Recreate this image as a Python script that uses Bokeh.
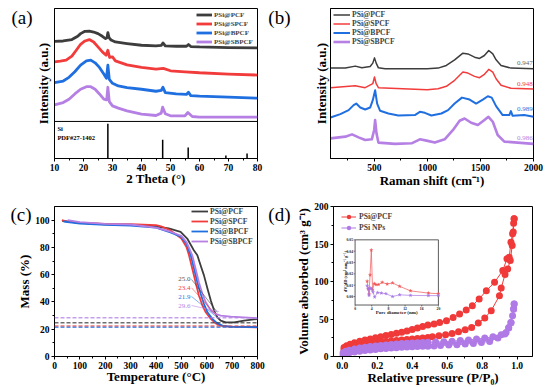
import numpy as np
from bokeh.plotting import figure
from bokeh.models import (Range1d, FixedTicker, Legend, LegendItem, Span, PrintfTickFormatter,
                          LinearAxis, CustomJSTickFormatter)
from bokeh.layouts import column, row
from bokeh.embed import file_html
from bokeh.resources import INLINE
from bokeh.core.properties import value

# ---------------- data ----------------
# (a) XRD
xrd_tt_pcf = [10, 13, 16, 18, 19, 20.5, 22, 23.5, 25, 26.5, 27.6, 28.1, 28.4, 28.8, 29.5, 31, 35, 40, 45, 46.8, 47.4, 48.2, 52, 55.5, 56.2, 57, 60, 70, 80]
xrd_pcf = [118, 118.3, 119.7, 123, 125.7, 128, 128.3, 127.3, 125.7, 123, 120.7, 121.5, 126.7, 121.7, 119.3, 117.3, 115.7, 114, 113.3, 113.8, 116.3, 113.3, 113, 113, 114.7, 112.7, 112.3, 111.7, 111.3]
xrd_tt_spcf = [10, 12, 14, 16, 17.5, 19, 20.5, 22, 23.5, 25, 26.5, 27.8, 28.4, 29, 30, 31, 33, 35, 40, 45, 47.5, 50, 55, 60, 70, 80]
xrd_spcf = [97.3, 98, 99, 103, 109, 115, 118.3, 119.7, 117.3, 112.3, 107.3, 104, 109, 101.7, 102.3, 98.3, 96.3, 94.3, 91.7, 90, 90.7, 88.3, 87.3, 86.3, 85, 84]
xrd_tt_bpcf = [10, 13, 15, 17, 19, 21, 22.5, 24, 25.5, 27, 27.9, 28.4, 28.9, 30, 32, 35, 40, 45, 46.8, 47.4, 48.2, 52, 55.5, 56.2, 57, 60, 70, 80]
xrd_bpcf = [76.3, 78, 81.7, 87.3, 94, 98.3, 99, 96.3, 91.7, 85, 80.7, 94, 79.7, 75.7, 73, 71.3, 69.7, 67.7, 68.5, 71.7, 66.3, 65, 64.5, 66.7, 63.3, 62.7, 61.7, 60.7]
xrd_tt_sbpcf = [10, 13, 15, 17, 19, 21, 22.5, 24, 25.5, 27, 28, 28.4, 28.9, 30, 32, 35, 40, 45, 46.8, 47.3, 48.2, 50, 55, 56, 57.5, 60, 70, 80]
xrd_sbpcf = [54, 56.3, 59.7, 65, 69.7, 72.3, 72.3, 69.7, 65, 59.7, 59, 71.7, 57.3, 53, 50.7, 48, 44.7, 43.3, 45.7, 51.7, 45, 43, 43, 46.3, 42.3, 41.7, 41.7, 41.7]
pdf_tt = [28.4, 47.3, 56.1, 69.1, 76.4]
pdf_int = [35, 19, 11, 3, 5]
pdf_divider = 37.3

# (b) Raman
ram_x_pcf = [85, 225, 319, 381, 459, 484, 500, 516, 537, 600, 850, 997, 1100, 1178, 1256, 1334, 1381, 1444, 1491, 1537, 1578, 1616, 1647, 1694, 1787, 2000]
ram_pcf = [91, 91, 93, 91.3, 92.7, 96, 101.3, 96, 91.3, 90.3, 90.3, 90.3, 91, 93.7, 99.3, 106, 105.3, 102, 100.7, 103.7, 108.7, 105.3, 99.3, 93.7, 91, 90.3]
ram_x_spcf = [85, 319, 412, 484, 500, 516, 537, 997, 1100, 1178, 1256, 1334, 1381, 1444, 1491, 1537, 1578, 1616, 1647, 1694, 1787, 2000]
ram_spcf = [71.3, 73.3, 71.3, 75.3, 82, 75.3, 71.3, 69.3, 70.3, 72.7, 78.7, 87, 86, 82.7, 81.3, 84.7, 89.7, 87, 80.3, 73.7, 70.7, 70]
ram_x_bpcf = [85, 178, 256, 303, 328, 366, 412, 459, 484, 506, 525, 553, 631, 725, 881, 928, 975, 1037, 1131, 1194, 1256, 1325, 1397, 1459, 1522, 1569, 1606, 1647, 1709, 1772, 1787, 1803, 1912, 2000]
ram_bpcf = [41.3, 44.7, 48.7, 53.7, 55.3, 51.3, 49.3, 51.3, 58.7, 68.7, 55.3, 48, 45.3, 43.3, 43.7, 47, 46, 43.3, 45.3, 48.7, 55.3, 61.3, 59.3, 55.3, 59.3, 62.7, 61.3, 52.7, 43.7, 43.7, 47.7, 43, 43.7, 42]
ram_x_sbpcf = [85, 225, 288, 350, 412, 475, 497, 506, 519, 537, 694, 850, 928, 991, 1069, 1162, 1241, 1303, 1350, 1412, 1475, 1537, 1575, 1616, 1662, 1725, 1850, 2000]
ram_sbpcf = [20.3, 22, 24.3, 21.3, 18.7, 19.3, 28.7, 38.7, 25.3, 16, 14.7, 15.3, 19.3, 18, 16, 19.3, 28.7, 38, 40.3, 36, 33.7, 38.7, 42, 37, 23.7, 17, 16, 14.7]
ram_ratio_text = ["0.947", "0.948", "0.989", "0.986"]
ram_ratio_y = [96.3, 75.3, 50.3, 21]

# (c) TGA
tga_T_pcf = [30, 100, 200, 300, 400, 450, 497, 523, 549, 563, 576, 589, 603, 616, 629, 642, 655, 675, 708, 747, 800]
tga_pcf = [99.5, 98, 97, 96.5, 95.5, 93.9, 91.4, 86.5, 77.9, 74.2, 66.8, 59.5, 49.7, 41, 33.7, 28.7, 26.3, 25, 25, 26.3, 27.5]
tga_T_spcf = [29, 50, 100, 200, 300, 400, 420, 457, 500, 520, 530, 543, 556, 569, 583, 596, 616, 635, 655, 682, 800]
tga_spcf = [100, 99, 98, 97.2, 97, 96.3, 95.5, 92.5, 86.5, 80.3, 74.2, 64.4, 54.5, 44.7, 37.4, 32.4, 27.6, 24.3, 22.6, 21.9, 21.4]
tga_T_bpcf = [36, 100, 200, 300, 400, 457, 500, 520, 537, 550, 563, 576, 589, 603, 622, 642, 662, 695, 800]
tga_bpcf = [99, 97.5, 96.5, 96, 94.5, 91, 87.7, 82.8, 74.2, 64.4, 54.5, 46, 38.6, 32.4, 27.6, 24.3, 22.6, 21.9, 21.6]
tga_T_sbpcf = [52, 100, 200, 300, 400, 457, 500, 520, 543, 556, 569, 583, 596, 616, 635, 655, 695, 747, 800]
tga_sbpcf = [100, 98.5, 97.3, 96.8, 94.5, 91.5, 88.5, 84, 74.2, 64.4, 54.5, 46, 39.8, 33.7, 31.2, 30, 29.2, 28.7, 28]
tga_residual_text = ["25.0", "23.4", "21.9", "29.6"]
tga_residual_dash = [24.8, 22.3, 21.5, 28.5]
tga_label_T = 536
tga_label_m = [56.5, 50.4, 44.0, 37.4]
tga_leader_end_T = [642, 639, 642, 648]
tga_leader_end_m = [32.4, 30.0, 28.5, 33.0]

# (d) N2 isotherms
bet_x_pcf_up = [0.01, 0.025, 0.045, 0.07, 0.1, 0.13, 0.16, 0.19, 0.22, 0.25, 0.28, 0.31, 0.34, 0.37, 0.40, 0.43, 0.46, 0.49, 0.525, 0.557, 0.596, 0.634, 0.671, 0.709, 0.744, 0.783, 0.824, 0.871, 0.918, 0.942, 0.955, 0.965, 0.974, 0.98, 0.983]
bet_pcf_up = [12, 14.5, 16.5, 18.5, 20.5, 22, 23.5, 25, 26.5, 28, 29.5, 31, 32.5, 34, 36, 38, 40, 42, 43.3, 45.5, 47.7, 52.1, 56.7, 62, 67.8, 76.7, 87.8, 98.9, 114.6, 130.2, 132.4, 152.4, 163.6, 177.8, 183.7]
bet_x_pcf_lo = [0.01, 0.025, 0.045, 0.07, 0.1, 0.13, 0.16, 0.19, 0.22, 0.25, 0.28, 0.31, 0.34, 0.37, 0.40, 0.43, 0.46, 0.49, 0.516, 0.553, 0.591, 0.628, 0.665, 0.703, 0.74, 0.778, 0.815, 0.852, 0.899, 0.909, 0.931, 0.946, 0.961, 0.972, 0.978, 0.983]
bet_pcf_lo = [9, 11, 12.5, 14, 15.5, 16.5, 17.5, 18.5, 19.2, 20, 20.7, 21.4, 22, 22.7, 23.4, 24, 24.7, 25.4, 26.3, 27.7, 29, 30.8, 33, 35.7, 38.8, 44.6, 51.3, 61.1, 81.1, 91.4, 109.2, 116.8, 128, 148, 166, 183.7]
bet_x_np_up = [0.005, 0.02, 0.04, 0.07, 0.1, 0.13, 0.16, 0.19, 0.22, 0.25, 0.28, 0.31, 0.34, 0.37, 0.40, 0.43, 0.46, 0.49, 0.534, 0.581, 0.628, 0.675, 0.722, 0.768, 0.815, 0.862, 0.909, 0.937, 0.952, 0.965, 0.974, 0.98, 0.983]
bet_np_up = [5, 7, 8.5, 10, 11.2, 12.3, 13.3, 14.1, 14.8, 15.5, 16.1, 16.7, 17.2, 17.7, 18.1, 18.5, 18.8, 19, 19.2, 19.8, 20.4, 21.2, 22, 23.3, 24.6, 26.3, 29, 32.1, 38.8, 45.5, 54.4, 63.6, 70]
bet_x_np_lo = [0.005, 0.02, 0.04, 0.07, 0.1, 0.13, 0.16, 0.19, 0.22, 0.25, 0.28, 0.31, 0.34, 0.37, 0.40, 0.43, 0.46, 0.49, 0.525, 0.562, 0.609, 0.656, 0.703, 0.75, 0.796, 0.843, 0.89, 0.93, 0.952, 0.965, 0.98, 0.983]
bet_np_lo = [2.5, 4, 5, 6, 7, 8, 8.8, 9.5, 10.2, 10.8, 11.3, 11.8, 12.2, 12.6, 13, 13.3, 13.6, 13.8, 13.9, 14.7, 15.2, 15.6, 16.6, 17.5, 18.8, 20.1, 24.6, 30, 38, 45, 63, 70]
# inset pore size distribution
psd_x_pcf = [2.9, 3.15, 3.35, 3.6, 3.9, 4.2, 4.6, 5.0, 5.6, 6.5, 7.7, 9.0, 10.7, 13.3, 17.6, 20]
psd_pcf = [0.0135, 0.0065, 0.002, 0.019, 0.041, 0.006, 0.0115, 0.0105, 0.0105, 0.0125, 0.011, 0.012, 0.009, 0.005, 0.003, 0.0025]
psd_x_np = [2.9, 3.15, 3.35, 3.6, 3.9, 4.3, 4.7, 5.4, 6.3, 7.4, 9.0, 10.7, 13.3, 17.6, 20]
psd_np = [0.0095, 0.007, 0.001, 0.0075, 0.007, 0.004, -0.0005, 0.0035, 0.003, 0.0025, 0.0, 0.0015, 0.001, 0.0008, 0.0008]
inset_xlim = (0, 20)
inset_ylim = (-0.0075, 0.05)
inset_xticks = [0, 4, 8, 12, 16, 20]
inset_yticks = [0.0, 0.01, 0.02, 0.03, 0.04, 0.05]

# ---------------- style ----------------
FONT = "Liberation Serif"
BLACK = "#3d3d3d"
RED = "#f23c3c"
BLUE = "#1f6fe0"
PURPLE = "#b57fe4"
names = ["PSi@PCF", "PSi@SPCF", "PSi@BPCF", "PSi@SBPCF"]
cols = [BLACK, RED, BLUE, PURPLE]


def make_fig(width, height, xr, yr, left, right, top, bottom):
    p = figure(width=width, height=height, x_range=Range1d(*xr), y_range=Range1d(*yr),
               output_backend="svg", toolbar_location=None, title=None,
               min_border_left=left, min_border_right=right,
               min_border_top=top, min_border_bottom=bottom)
    p.grid.visible = False
    p.outline_line_color = "black"
    p.outline_line_width = 1
    p.outline_line_alpha = 1
    p.background_fill_color = "white"
    p.border_fill_color = "white"
    for ax in p.axis:
        ax.axis_line_color = "black"
        ax.axis_line_width = 1
        ax.major_tick_line_color = "black"
        ax.minor_tick_line_color = "black"
        ax.major_tick_out = 3
        ax.major_tick_in = 0
        ax.minor_tick_out = 2
        ax.minor_tick_in = 0
        ax.major_label_text_font = FONT
        ax.major_label_text_font_style = "bold"
        ax.major_label_text_font_size = "9.5px"
        ax.major_label_text_color = "black"
        ax.major_label_standoff = 2
        ax.axis_label_text_font = FONT
        ax.axis_label_text_font_style = "bold"
        ax.axis_label_text_font_size = "13px"
        ax.axis_label_text_color = "black"
    return p


def set_title(ax, text, standoff):
    ax.axis_label = text
    ax.axis_label_standoff = standoff


def add_tag(p, tag, y, standoff):
    ax = LinearAxis(ticker=FixedTicker(ticks=[y], minor_ticks=[]),
                    formatter=CustomJSTickFormatter(code="return '%s';" % tag),
                    axis_line_color=None, major_tick_line_color=None, minor_tick_line_color=None,
                    major_tick_out=0, major_tick_in=0, minor_tick_out=0, minor_tick_in=0,
                    major_label_standoff=standoff, major_label_text_font=FONT,
                    major_label_text_font_size="19px", major_label_text_font_style="normal",
                    major_label_text_color="black")
    p.add_layout(ax, "left")


def no_ticks(ax):
    ax.ticker = FixedTicker(ticks=[], minor_ticks=[])
    ax.major_tick_out = 0
    ax.minor_tick_out = 0


def add_legend(p, items, loc, font_size, gw, gh, standoff):
    lg = Legend(items=items, location=loc, orientation="vertical", padding=0, margin=0,
                spacing=0, glyph_width=gw, glyph_height=gh, label_height=gh,
                label_standoff=standoff, label_text_font=FONT,
                label_text_font_style="bold", label_text_font_size=font_size,
                background_fill_alpha=0, border_line_alpha=0)
    p.add_layout(lg)


# ---------------- (a) XRD ----------------
pa = make_fig(265, 190, (10, 80), (0, 151), 54, 8, 8, 31)
no_ticks(pa.yaxis[0])
set_title(pa.yaxis[0], "Intensity (a.u.)", 4)
pa.xaxis.ticker = FixedTicker(ticks=list(range(10, 81, 10)), minor_ticks=list(range(15, 80, 10)))
set_title(pa.xaxis[0], "2 Theta (°)", -3)
xs_a = [xrd_tt_pcf, xrd_tt_spcf, xrd_tt_bpcf, xrd_tt_sbpcf]
ys_a = [xrd_pcf, xrd_spcf, xrd_bpcf, xrd_sbpcf]
items = []
for xx, yy, c, n in zip(xs_a, ys_a, cols, names):
    r = pa.line(xx, yy, line_color=c, line_width=2.8, line_join="round")
    items.append(LegendItem(label=n, renderers=[r]))
pa.add_layout(Span(location=pdf_divider, dimension="width", line_color="black", line_width=1))
pa.segment(x0=pdf_tt, y0=[0] * len(pdf_tt), x1=pdf_tt, y1=pdf_int, line_color="black", line_width=1.5)
pa.text(x=[11, 11], y=[30, 21.3], text=["Si", "PDF#27-1402"], text_font=value(FONT),
        text_font_size="6.5px", text_font_style="bold", text_baseline="middle", text_align="left",
        text_color="black")
add_legend(pa, items, (142, 112), "7px", 16, 9, 2)
add_tag(pa, "(a)", 142, 0)

# ---------------- (b) Raman ----------------
pb = make_fig(289, 190, (85, 2000), (0, 151), 64, 21, 8, 31)
no_ticks(pb.yaxis[0])
set_title(pb.yaxis[0], "Intensity (a.u.)", 2)
pb.xaxis.ticker = FixedTicker(ticks=[500, 1000, 1500, 2000], minor_ticks=[250, 750, 1250, 1750])
set_title(pb.xaxis[0], "Raman shift (cm⁻¹)", -1)
xs_b = [ram_x_pcf, ram_x_spcf, ram_x_bpcf, ram_x_sbpcf]
ys_b = [ram_pcf, ram_spcf, ram_bpcf, ram_sbpcf]
widths_b = [1.5, 1.5, 2.0, 2.6]
items = []
for xx, yy, c, n, w in zip(xs_b, ys_b, cols, names, widths_b):
    r = pb.line(xx, yy, line_color=c, line_width=w, line_join="round")
    items.append(LegendItem(label=n, renderers=[r]))
pb.text(x=[1992] * 4, y=ram_ratio_y, text=ram_ratio_text, text_font=value(FONT),
        text_font_size="7px", text_baseline="middle", text_align="right",
        text_color=["#666666", RED, BLUE, PURPLE])
add_legend(pb, items, (3, 112), "7.7px", 17, 9, 2)
add_tag(pb, "(b)", 142, 20)

# ---------------- (c) TGA ----------------
pc = make_fig(265, 197, (0, 800), (0, 110), 54, 8, 16, 31)
pc.xaxis.ticker = FixedTicker(ticks=list(range(0, 801, 100)), minor_ticks=list(range(50, 800, 100)))
pc.yaxis.ticker = FixedTicker(ticks=list(range(0, 101, 20)), minor_ticks=list(range(10, 100, 20)))
set_title(pc.xaxis[0], "Temperature (°C)", -3)
set_title(pc.yaxis[0], "Mass (%)", 0)
for loc, c in zip(tga_residual_dash, cols):
    pc.add_layout(Span(location=loc, dimension="width", line_color=c, line_width=1.5,
                       line_dash="4 2", line_alpha=0.75))
xs_c = [tga_T_pcf, tga_T_spcf, tga_T_bpcf, tga_T_sbpcf]
ys_c = [tga_pcf, tga_spcf, tga_bpcf, tga_sbpcf]
items = []
for xx, yy, c, n in zip(xs_c, ys_c, cols, names):
    r = pc.line(xx, yy, line_color=c, line_width=1.8, line_join="round")
    items.append(LegendItem(label=n, renderers=[r]))
pc.segment(x0=[tga_label_T + 4] * 4, y0=tga_label_m, x1=tga_leader_end_T, y1=tga_leader_end_m,
           line_color=cols, line_width=0.7, line_alpha=0.8)
pc.text(x=[tga_label_T] * 4, y=tga_label_m, text=tga_residual_text, text_font=value(FONT),
        text_font_size="7px", text_baseline="middle", text_align="right",
        text_color=["#555555", RED, BLUE, PURPLE])
add_legend(pc, items, (137, 110), "7.7px", 17, 10, 2)
add_tag(pc, "(c)", 104, -17)

# ---------------- (d) BET ----------------
pdd = make_fig(289, 197, (-0.05, 1.088), (0, 200), 64, 22, 16, 31)
pdd.xaxis.ticker = FixedTicker(ticks=[0, 0.2, 0.4, 0.6, 0.8, 1.0], minor_ticks=[0.1, 0.3, 0.5, 0.7, 0.9])
pdd.xaxis.formatter = PrintfTickFormatter(format="%.1f")
pdd.yaxis.ticker = FixedTicker(ticks=[0, 50, 100, 150, 200], minor_ticks=[25, 75, 125, 175])
set_title(pdd.xaxis[0], "Relative pressure (P/P₀)", -2)
set_title(pdd.yaxis[0], "Volume absorbed (cm³ g⁻¹)", 0)
R2 = "#f03a3a"
P2 = "#b07ae6"
l1 = pdd.line(bet_x_pcf_up, bet_pcf_up, line_color=R2, line_width=1)
pdd.line(bet_x_pcf_lo, bet_pcf_lo, line_color=R2, line_width=1)
s1 = pdd.scatter(bet_x_pcf_up, bet_pcf_up, size=7, fill_color=R2, line_color=R2, line_width=0)
pdd.scatter(bet_x_pcf_lo, bet_pcf_lo, size=7, fill_color=R2, line_color=R2, line_width=0)
l2 = pdd.line(bet_x_np_up, bet_np_up, line_color=P2, line_width=1)
pdd.line(bet_x_np_lo, bet_np_lo, line_color=P2, line_width=1)
s2 = pdd.scatter(bet_x_np_up, bet_np_up, size=7, fill_color=P2, line_color=P2, line_width=0)
pdd.scatter(bet_x_np_lo, bet_np_lo, size=7, fill_color=P2, line_color=P2, line_width=0)
add_legend(pdd, [LegendItem(label="PSi@PCF", renderers=[l1, s1]),
                 LegendItem(label="PSi NPs", renderers=[l2, s2])], (8, 123), "7.7px", 15, 11, 3)
add_tag(pdd, "(d)", 189, 3)

# inset (drawn through extra ranges)
pdd.extra_x_ranges = {"ix": Range1d(-5.18, 42.59)}
pdd.extra_y_ranges = {"iy": Range1d(-0.0529, 0.0794)}
IX = dict(x_range_name="ix", y_range_name="iy")
PX_X = 1 / 4.25     # inset units per pixel (x)
PX_Y = 1 / 1134.0   # inset units per pixel (y)
pdd.quad(left=inset_xlim[0], right=inset_xlim[1], bottom=inset_ylim[0], top=inset_ylim[1],
         fill_color="white", line_color="#333333", line_width=0.8, **IX)
pdd.segment(x0=inset_xticks, y0=[inset_ylim[0]] * 6, x1=inset_xticks,
            y1=[inset_ylim[0] - 1.5 * PX_Y] * 6, line_color="#333333", line_width=0.6, **IX)
pdd.segment(x0=[inset_xlim[0]] * 6, y0=inset_yticks, x1=[inset_xlim[0] - 1.5 * PX_X] * 6,
            y1=inset_yticks, line_color="#333333", line_width=0.6, **IX)
pdd.text(x=inset_xticks, y=[inset_ylim[0] - 1.8 * PX_Y] * 6, text=[str(t) for t in inset_xticks],
         text_font=value(FONT), text_font_size="3.8px", text_font_style="bold",
         text_align="center", text_baseline="top", text_color="#222222", **IX)
pdd.text(x=[inset_xlim[0] - 2.0 * PX_X] * 6, y=inset_yticks, text=["%.2f" % t for t in inset_yticks],
         text_font=value(FONT), text_font_size="3.8px", text_font_style="bold",
         text_align="right", text_baseline="middle", text_color="#222222", **IX)
pdd.text(x=[10], y=[inset_ylim[0] - 7.5 * PX_Y], text=["Pore diameter (nm)"],
         text_font=value(FONT), text_font_size="5px", text_font_style="bold",
         text_align="center", text_baseline="middle", text_color="#222222", **IX)
pdd.text(x=[inset_xlim[0] - 9.5 * PX_X], y=[0.022], text=["dV/dD (cm³ nm⁻¹ g⁻¹)"], angle=np.pi / 2,
         text_font=value(FONT), text_font_size="4.5px", text_font_style="bold",
         text_align="center", text_baseline="middle", text_color="#222222", **IX)
pdd.line(psd_x_pcf, psd_pcf, line_color="#f05555", line_width=0.7, **IX)
pdd.scatter(psd_x_pcf, psd_pcf, marker="star", size=3.5, fill_color="#f05555", line_color="#f05555",
            line_width=0.3, **IX)
pdd.line(psd_x_np, psd_np, line_color="#a878e6", line_width=0.7, **IX)
pdd.scatter(psd_x_np, psd_np, marker="star", size=3.5, fill_color="#a878e6", line_color="#a878e6",
            line_width=0.3, **IX)

layout = column(row(pa, pb), row(pc, pdd))
open("out.html", "w").write(file_html(layout, INLINE))
